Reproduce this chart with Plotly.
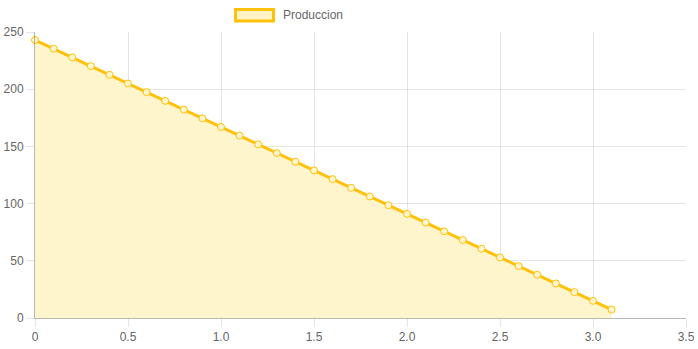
import plotly.graph_objects as go

x_vals = [round(0.1 * i, 1) for i in range(32)]
y_vals = [243, 235.4, 227.8, 220.2, 212.6, 205, 197.4, 189.8, 182.2, 174.6,
          167, 159.4, 151.8, 144.2, 136.6, 129, 121.4, 113.8, 106.2, 98.6,
          91, 83.4, 75.8, 68.2, 60.6, 53, 45.4, 37.8, 30.2, 22.6, 15, 7.4]
x_ticks = [0, 0.5, 1.0, 1.5, 2.0, 2.5, 3.0, 3.5]
x_tick_text = ["0", "0.5", "1.0", "1.5", "2.0", "2.5", "3.0", "3.5"]
y_ticks = [0, 50, 100, 150, 200, 250]
series_name = "Produccion"

line_color = "#FFC107"
fill_color = "#FFF5CC"
font_family = "Liberation Sans, Arial, sans-serif"

fig = go.Figure()
fig.add_trace(go.Scatter(
    x=x_vals, y=y_vals, mode="lines+markers", name=series_name,
    fill="tozeroy", fillcolor=fill_color,
    line=dict(color=line_color, width=3),
    marker=dict(size=7, color="#FFF6CF", line=dict(color=line_color, width=1)),
    showlegend=False, cliponaxis=False,
))

grid = "rgba(0,0,0,0.1)"
fig.update_xaxes(
    range=[0, 3.5], tickvals=x_ticks, ticktext=x_tick_text,
    showgrid=True, gridcolor=grid, gridwidth=1,
    ticks="outside", ticklen=8, tickcolor=grid,
    showline=True, linecolor="rgba(0,0,0,0.28)", linewidth=1,
    zeroline=False, tickfont=dict(color="#666", size=12, family=font_family),
    automargin=False,
)
fig.update_yaxes(
    range=[0, 250], tickvals=y_ticks,
    showgrid=True, gridcolor=grid, gridwidth=1,
    ticks="outside", ticklen=8, tickcolor=grid,
    showline=True, linecolor="rgba(0,0,0,0.28)", linewidth=1,
    zeroline=False, tickfont=dict(color="#666", size=12, family=font_family),
    automargin=False,
)

# legend drawn manually (chart.js style box)
fig.add_shape(type="rect", xref="paper", yref="paper",
              x0=(235.5 - 35) / 651, x1=(273.5 - 35) / 651,
              y0=(318 - 21) / 286, y1=(318 - 9.5) / 286,
              fillcolor="#FFF3C6", line=dict(color=line_color, width=3))
fig.add_annotation(xref="paper", yref="paper",
                   x=(281 - 35) / 651, y=(318 - 15) / 286,
                   xanchor="left", yanchor="middle", showarrow=False,
                   text=series_name, font=dict(color="#666", size=12, family=font_family))

fig.update_layout(
    width=698, height=349,
    margin=dict(l=35, r=12, t=32, b=31),
    paper_bgcolor="white", plot_bgcolor="white",
    showlegend=False,
)
fig.write_html("out.html")
